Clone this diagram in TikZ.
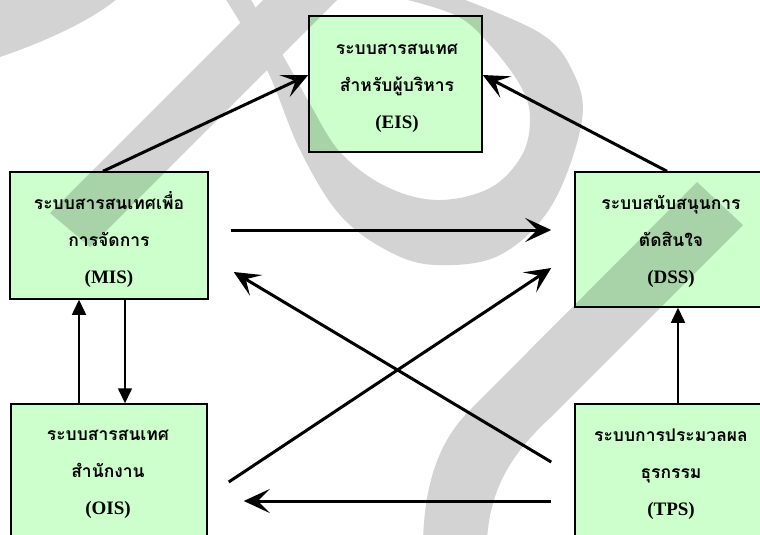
\documentclass[tikz,border=0pt]{standalone}
\usepackage{fontspec}
\setmainfont{Liberation Serif}
\newfontfamily\thaifont[Script=Thai]{Loma}
\usetikzlibrary{arrows.meta,calc}
\definecolor{boxgreen}{HTML}{CCFFCC}
\definecolor{wmgray}{HTML}{D3D3D3}
\newcommand\thaitxt[1]{{\thaifont\fontsize{17.5}{37}\selectfont #1}}
\begin{document}
\begin{tikzpicture}[x=1pt,y=-1pt,
  sysbox/.style={draw=black, line width=1.5pt, fill=boxgreen, rectangle, inner sep=0pt},
  systext/.style={align=center, font=\bfseries\fontsize{19}{37}\selectfont, inner sep=0pt},
  bigarrow/.style={line width=3pt, -{Stealth[length=26pt,width=24pt,inset=12pt]}},
  thinarrow/.style={line width=1.6pt, -{Triangle[length=15pt,width=14pt]}},
]
\useasboundingbox (0,0) rectangle (760,535);
% watermark
\begin{scope}
\clip (0,0) rectangle (760,535);
\fill[wmgray] (0,-2) -- (0,57) .. controls (50,40) and (95,18) .. (118,-2) -- cycle;
\fill[wmgray] (50,213) -- (90,247) -- (339,-2) -- (265,-2) -- cycle;
\fill[wmgray] plot[smooth, tension=0.6] coordinates {(225,-2) (267,70) (300,150) (340,215) (390,252) (437,265) (500,255) (552,205) (582,120) (572,70) (540,33) (460,-2)}
  -- plot[smooth, tension=0.6] coordinates {(400,-2) (457,16) (490,45) (520,85) (530,117) (522,155) (490,188) (437,200) (385,186) (340,152) (310,104) (290,68) (250,-2)} -- cycle;
\fill[wmgray] (697,182) -- (470,410) .. controls (440,440) and (425,480) .. (423,540) -- (487,540) .. controls (490,490) and (510,455) .. (550,418) -- (743,225) -- cycle;
\end{scope}
\begin{scope}[blend mode=multiply]
\node[sysbox, minimum width=173pt, minimum height=136pt] (eis) at (395.5,84) {};
\node[sysbox, minimum width=198pt, minimum height=127pt] (mis) at (109,235.5) {};
\node[sysbox, minimum width=188pt, minimum height=135pt] (dss) at (669,239.5) {};
\node[sysbox, minimum width=196pt, minimum height=134pt] (ois) at (109,471) {};
\node[sysbox, minimum width=188pt, minimum height=134pt] (tps) at (669,471) {};

\node[systext] (eist) at (397,88) {\thaitxt{ระบบสารสนเทศ}\\\thaitxt{สำหรับผู้บริหาร}\\(EIS)};
\node[systext] (mist) at (109,240) {\thaitxt{ระบบสารสนเทศเพื่อ}\\\thaitxt{การจัดการ}\\(MIS)};
\node[systext] (dsst) at (671,241) {\thaitxt{ระบบสนับสนุนการ}\\\thaitxt{ตัดสินใจ}\\(DSS)};
\node[systext] (oist) at (108,474) {\thaitxt{ระบบสารสนเทศ}\\\thaitxt{สำนักงาน}\\(OIS)};
\node[systext] (tpst) at (671,474) {\thaitxt{ระบบการประมวลผล}\\\thaitxt{ธุรกรรม}\\(TPS)};

\draw[bigarrow] ($(mis.north)+(-6,0)$) -- ($(eis.west)+(0,-9)$);
\draw[bigarrow] ($(dss.north)+(-2,0)$) -- ($(eis.east)+(0,-9)$);
\draw[bigarrow] ($(mis.east)+(22,-5.5)$) -- ($(dss.west)+(-23,-9.5)$);
\draw[bigarrow] ($(tps.west)+(-23,-9)$) -- ($(mis.east)+(25,36.5)$);
\draw[bigarrow] ($(ois.east)+(21,11)$) -- ($(dss.west)+(-23,28.5)$);
\draw[bigarrow] ($(tps.west)+(-23,30)$) -- ($(ois.east)+(36,30)$);
\draw[thinarrow] ($(ois.north)+(-30,0)$) -- ($(mis.south)+(-30,0)$);
\draw[thinarrow] ($(mis.south)+(16,0)$) -- ($(ois.north)+(16,0)$);
\draw[thinarrow] ($(tps.north)+(9,0)$) -- ($(dss.south)+(9,0)$);
\end{scope}
\end{tikzpicture}
\end{document}
